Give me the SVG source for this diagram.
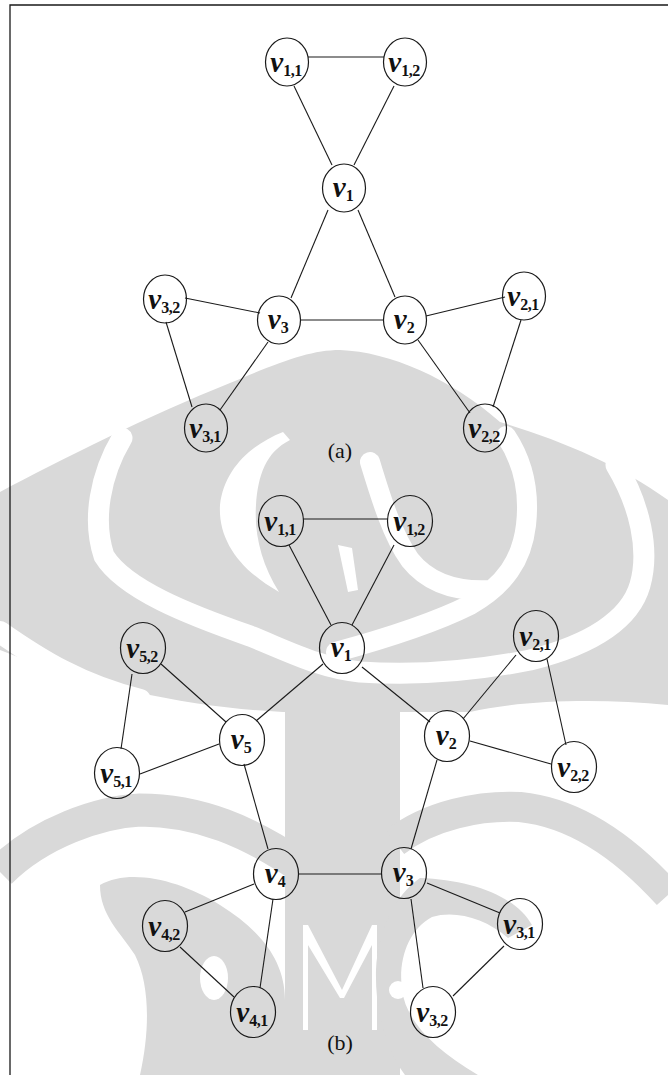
<svg xmlns="http://www.w3.org/2000/svg" width="668" height="1075" viewBox="0 0 668 1075">
  <style>
    .wm { fill: #d9d9d9; stroke: none; }
    .wh { fill: #ffffff; stroke: none; }
    .wband { fill: none; stroke: #ffffff; stroke-linecap: round; stroke-linejoin: round; }
    .gband { fill: none; stroke: #d9d9d9; stroke-linecap: butt; stroke-linejoin: round; }
    .frame { stroke: #1a1a1a; stroke-width: 1.3; fill: none; }
    .edges line { stroke: #1a1a1a; stroke-width: 1.1; }
    .node ellipse { fill: none; stroke: #1a1a1a; stroke-width: 1.2; }
    .lbl { font-family: "Liberation Serif", "Times New Roman", serif; fill: #111; text-anchor: middle; }
    .v { font-style: italic; font-weight: bold; font-size: 29px; }
    .s { font-style: normal; font-weight: bold; font-size: 16px; letter-spacing: -0.5px; }
    .cap { font-family: "Liberation Serif", "Times New Roman", serif; font-size: 22px; fill: #111; text-anchor: middle; }
  </style>

  <rect x="0" y="0" width="668" height="1075" fill="#ffffff"/>

  <!-- background emblem, light grey -->
  <g id="watermark">
    <!-- upper dome -->
    <path class="wm" d="M0,492 C60,460 150,415 230,383 C280,362 310,350 340,350 C390,352 450,378 500,422 C560,440 620,465 668,500 L668,705 C600,698 520,700 470,712 L283,712 C200,708 100,690 0,650 Z"/>
    <!-- large bowl-shaped white band -->
    <path class="wband" stroke-width="21" d="M122,438 C100,475 92,520 104,556 C125,590 190,615 250,636 C290,652 320,668 360,672 C420,676 480,670 530,660 C590,645 630,620 640,585 C650,550 640,505 616,465"/>
    <!-- inner left crescent -->
    <path class="wh" d="M283,432 C250,445 224,470 220,505 C218,540 240,570 279,592 C262,565 254,535 256,505 C258,475 266,452 290,440 Z"/>
    <!-- inner right loop -->
    <path class="wband" stroke-width="20" d="M370,462 C380,495 392,535 410,560 C430,585 460,592 492,590 M506,436 C522,460 530,490 526,525 C522,560 505,585 470,605 C430,625 380,640 336,652"/>
    <!-- central sliver -->
    <path class="wh" d="M338,545 L352,548 L358,590 L348,592 Z"/>
    <!-- band under the dome -->
    <path class="wband" stroke-width="22" d="M0,632 C40,660 80,685 140,700"/>

    <!-- lower left arc and curl -->
    <path class="gband" stroke-width="33" d="M0,872 C40,832 100,812 140,810 C200,810 250,832 300,866"/>
    <path class="wm" d="M100,885 C130,868 180,880 220,905 C260,930 285,960 285,1000 L285,1075 L140,1075 C150,1030 150,985 135,955 C120,932 100,915 100,885 Z"/>
    <ellipse class="wh" cx="214" cy="978" rx="14" ry="22"/>
    <!-- central trunk with its letter cut-out -->
    <path class="wm" d="M285,712 L400,712 L400,1075 L285,1075 Z"/>
    <path class="wh" d="M303,925 L308,925 L342,990 L372,925 L377,925 L377,1030 L372,1030 L372,945 L344,998 L340,998 L308,945 L308,1030 L303,1030 Z"/>
    <!-- lower right arc and curl -->
    <path class="gband" stroke-width="30" d="M395,842 C430,815 480,805 520,807 C570,812 620,842 668,895"/>
    <path class="wm" d="M420,878 C470,880 515,895 532,925 L508,938 C485,918 455,910 432,917 C408,930 398,960 402,990 C406,1020 432,1048 478,1075 L405,1075 C385,1048 375,1010 376,970 C378,930 395,895 420,878 Z"/>
    <circle class="wh" cx="398" cy="990" r="9"/>
  </g>

  <!-- frame -->
  <path class="frame" d="M10,1075 L10,5 L668,5"/>

  <g id="connectors" class="edges">
    <!-- graph (a) -->
    <line x1="308" y1="57" x2="384" y2="57"/>
    <line x1="294" y1="86" x2="332" y2="165"/>
    <line x1="394" y1="86" x2="354" y2="165"/>
    <line x1="328" y1="210" x2="291" y2="298"/>
    <line x1="358" y1="210" x2="395" y2="297"/>
    <line x1="185" y1="298" x2="260" y2="313"/>
    <line x1="300" y1="320" x2="384" y2="320"/>
    <line x1="426" y1="316" x2="505" y2="297"/>
    <line x1="166" y1="322" x2="192" y2="407"/>
    <line x1="268" y1="342" x2="220" y2="410"/>
    <line x1="418" y1="340" x2="470" y2="413"/>
    <line x1="521" y1="320" x2="493" y2="407"/>
    <!-- graph (b) -->
    <line x1="303" y1="519" x2="388" y2="519"/>
    <line x1="289" y1="545" x2="331" y2="625"/>
    <line x1="394" y1="545" x2="352" y2="625"/>
    <line x1="323" y1="664" x2="256" y2="721"/>
    <line x1="362" y1="667" x2="430" y2="722"/>
    <line x1="161" y1="664" x2="226" y2="722"/>
    <line x1="132" y1="674" x2="121" y2="749"/>
    <line x1="219" y1="744" x2="140" y2="774"/>
    <line x1="516" y1="655" x2="463" y2="719"/>
    <line x1="547" y1="659" x2="566" y2="745"/>
    <line x1="470" y1="741" x2="551" y2="764"/>
    <line x1="244" y1="764" x2="268" y2="849"/>
    <line x1="437" y1="760" x2="411" y2="849"/>
    <line x1="298" y1="874" x2="382" y2="874"/>
    <line x1="254" y1="884" x2="185" y2="912"/>
    <line x1="273" y1="899" x2="260" y2="988"/>
    <line x1="180" y1="947" x2="234" y2="997"/>
    <line x1="427" y1="883" x2="500" y2="913"/>
    <line x1="411" y1="899" x2="423" y2="988"/>
    <line x1="504" y1="946" x2="453" y2="996"/>
  </g>

  <!-- graph (a) nodes -->
  <g id="a-v11" class="node"><ellipse cx="287" cy="62" rx="21.5" ry="24"/><text class="lbl" x="286" y="72"><tspan class="v">v</tspan><tspan class="s" dy="4">1,1</tspan></text></g>
  <g id="a-v12" class="node"><ellipse cx="405" cy="62" rx="21.5" ry="24"/><text class="lbl" x="404" y="72"><tspan class="v">v</tspan><tspan class="s" dy="4">1,2</tspan></text></g>
  <g id="a-v1" class="node"><ellipse cx="344" cy="188" rx="21.5" ry="24"/><text class="lbl" x="343" y="197"><tspan class="v">v</tspan><tspan class="s" dy="4">1</tspan></text></g>
  <g id="a-v32" class="node"><ellipse cx="165" cy="299" rx="21.5" ry="24"/><text class="lbl" x="164" y="309"><tspan class="v">v</tspan><tspan class="s" dy="4">3,2</tspan></text></g>
  <g id="a-v3" class="node"><ellipse cx="279" cy="320" rx="21.5" ry="24"/><text class="lbl" x="278" y="329"><tspan class="v">v</tspan><tspan class="s" dy="4">3</tspan></text></g>
  <g id="a-v2" class="node"><ellipse cx="405" cy="320" rx="21.5" ry="24"/><text class="lbl" x="404" y="329"><tspan class="v">v</tspan><tspan class="s" dy="4">2</tspan></text></g>
  <g id="a-v21" class="node"><ellipse cx="524" cy="296" rx="21.5" ry="24"/><text class="lbl" x="523" y="306"><tspan class="v">v</tspan><tspan class="s" dy="4">2,1</tspan></text></g>
  <g id="a-v22" class="node"><ellipse cx="485" cy="428" rx="21.5" ry="24"/><text class="lbl" x="484" y="438"><tspan class="v">v</tspan><tspan class="s" dy="4">2,2</tspan></text></g>
  <g id="a-v31" class="node"><ellipse cx="206" cy="428" rx="21.5" ry="24"/><text class="lbl" x="205" y="438"><tspan class="v">v</tspan><tspan class="s" dy="4">3,1</tspan></text></g>
  <text id="cap-a" class="cap" x="340" y="458">(a)</text>

  <!-- graph (b) nodes -->
  <g id="b-v11" class="node"><ellipse cx="281" cy="521" rx="22.5" ry="25.5"/><text class="lbl" x="280" y="531"><tspan class="v">v</tspan><tspan class="s" dy="4">1,1</tspan></text></g>
  <g id="b-v12" class="node"><ellipse cx="410" cy="521" rx="22.5" ry="25.5"/><text class="lbl" x="409" y="531"><tspan class="v">v</tspan><tspan class="s" dy="4">1,2</tspan></text></g>
  <g id="b-v1" class="node"><ellipse cx="342" cy="648" rx="22.5" ry="25.5"/><text class="lbl" x="341" y="657"><tspan class="v">v</tspan><tspan class="s" dy="4">1</tspan></text></g>
  <g id="b-v52" class="node"><ellipse cx="143" cy="648" rx="22.5" ry="25.5"/><text class="lbl" x="142" y="658"><tspan class="v">v</tspan><tspan class="s" dy="4">5,2</tspan></text></g>
  <g id="b-v5" class="node"><ellipse cx="242" cy="740" rx="22.5" ry="25.5"/><text class="lbl" x="241" y="749"><tspan class="v">v</tspan><tspan class="s" dy="4">5</tspan></text></g>
  <g id="b-v2" class="node"><ellipse cx="447" cy="736" rx="22.5" ry="25.5"/><text class="lbl" x="446" y="745"><tspan class="v">v</tspan><tspan class="s" dy="4">2</tspan></text></g>
  <g id="b-v21" class="node"><ellipse cx="536" cy="636" rx="22.5" ry="25.5"/><text class="lbl" x="535" y="646"><tspan class="v">v</tspan><tspan class="s" dy="4">2,1</tspan></text></g>
  <g id="b-v22" class="node"><ellipse cx="574" cy="767" rx="22.5" ry="25.5"/><text class="lbl" x="573" y="777"><tspan class="v">v</tspan><tspan class="s" dy="4">2,2</tspan></text></g>
  <g id="b-v51" class="node"><ellipse cx="117" cy="773" rx="22.5" ry="25.5"/><text class="lbl" x="116" y="783"><tspan class="v">v</tspan><tspan class="s" dy="4">5,1</tspan></text></g>
  <g id="b-v4" class="node"><ellipse cx="276" cy="874" rx="22.5" ry="25.5"/><text class="lbl" x="275" y="883"><tspan class="v">v</tspan><tspan class="s" dy="4">4</tspan></text></g>
  <g id="b-v3" class="node"><ellipse cx="404" cy="873" rx="22.5" ry="25.5"/><text class="lbl" x="403" y="882"><tspan class="v">v</tspan><tspan class="s" dy="4">3</tspan></text></g>
  <g id="b-v42" class="node"><ellipse cx="165" cy="926" rx="22.5" ry="25.5"/><text class="lbl" x="164" y="936"><tspan class="v">v</tspan><tspan class="s" dy="4">4,2</tspan></text></g>
  <g id="b-v31" class="node"><ellipse cx="520" cy="924" rx="22.5" ry="25.5"/><text class="lbl" x="519" y="934"><tspan class="v">v</tspan><tspan class="s" dy="4">3,1</tspan></text></g>
  <g id="b-v41" class="node"><ellipse cx="253" cy="1012" rx="22.5" ry="25.5"/><text class="lbl" x="252" y="1022"><tspan class="v">v</tspan><tspan class="s" dy="4">4,1</tspan></text></g>
  <g id="b-v32" class="node"><ellipse cx="433" cy="1012" rx="22.5" ry="25.5"/><text class="lbl" x="432" y="1022"><tspan class="v">v</tspan><tspan class="s" dy="4">3,2</tspan></text></g>
  <text id="cap-b" class="cap" x="340" y="1050">(b)</text>
</svg>
